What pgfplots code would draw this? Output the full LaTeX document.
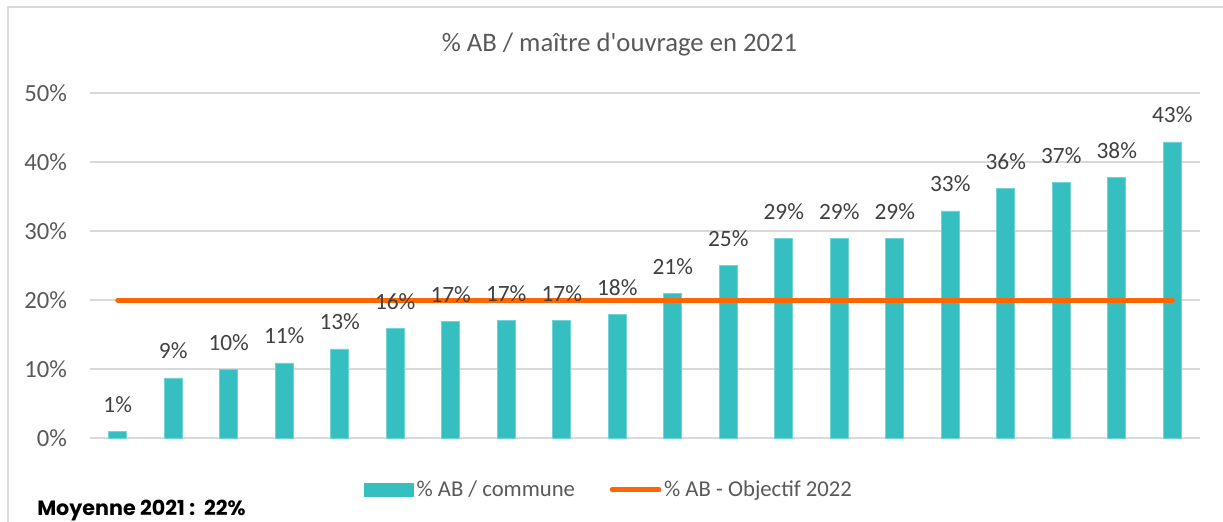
\documentclass[border=0pt]{standalone}
\usepackage{pgfplots}
\pgfplotsset{compat=1.18}
\usepackage{fontspec}
\setmainfont{Carlito}
\newfontfamily\poppins{Poppins}
\definecolor{teal1}{HTML}{36BFC1}
\definecolor{orange1}{HTML}{FF6600}
\definecolor{txt}{HTML}{595959}
\definecolor{lbl}{HTML}{404040}
\definecolor{grd}{HTML}{D9D9D9}
\begin{document}
\begin{tikzpicture}
\useasboundingbox (0,0) rectangle (917.25pt,390.75pt);
\draw[grd, line width=1pt] (6pt,-5pt) -- (6pt,385.5pt) -- (925pt,385.5pt);
\node[anchor=base, text=txt, font=\fontsize{20}{24}\selectfont, inner sep=0pt] at (464.6pt,351.75pt) {\% AB / maître d\textquotesingle ouvrage en 2021};
\node[anchor=base west, inner sep=0pt, font=\poppins\bfseries\fontsize{15.5}{18}\selectfont] at (27.75pt,4.5pt) {Moyenne 2021 :\ \ 22\%};
\begin{axis}[
  at={(67.5pt,62.25pt)}, anchor=south west,
  scale only axis, width=832.5pt, height=258.75pt,
  xmin=-0.5, xmax=19.5, ymin=0, ymax=50,
  xtick=\empty,
  ytick={0,10,20,30,40,50},
  /pgf/number format/assume math mode=true,
  yticklabel={\pgfmathprintnumber{\tick}\%},
  yticklabel style={text=txt, font=\fontsize{18.5}{22}\selectfont, inner xsep=0pt, xshift=-17pt},
  major tick length=0pt,
  ymajorgrids, grid style={grd, line width=1.2pt},
  axis line style={draw=none},
  clip=false,
  legend columns=2,
  legend style={at={(0.468,-0.15)}, anchor=center, draw=none, fill=none,
    font=\fontsize{17}{20}\selectfont, text=txt,
    /tikz/every even column/.append style={column sep=24pt},
    nodes={inner xsep=2pt}},
]
\addplot[ybar, bar width=13.5pt, fill=teal1, draw=teal1!70!white, line width=0.4pt,
  point meta=explicit symbolic,
  nodes near coords,
  every node near coord/.append style={anchor=base, yshift=14.25pt, text=lbl, font=\fontsize{17.5}{20}\selectfont, inner sep=0pt},
  legend image code/.code={\fill[teal1] (0pt,-4.9pt) rectangle (36.75pt,4.9pt);}
] table[meta=label] {
x y label
0 1.0 1\%
1 8.7 9\%
2 10.0 10\%
3 10.9 11\%
4 12.9 13\%
5 15.9 16\%
6 16.9 17\%
7 17.0 17\%
8 17.0 17\%
9 17.9 18\%
10 21.0 21\%
11 25.0 25\%
12 28.9 29\%
13 28.9 29\%
14 28.9 29\%
15 32.9 33\%
16 36.2 36\%
17 37.0 37\%
18 37.8 38\%
19 42.9 43\%
};
\addlegendentry{\% AB / commune}
\addplot[orange1, line width=3.75pt, line cap=round, mark=none,
  legend image code/.code={\draw[orange1, line width=3.75pt, line cap=round] (1.9pt,0pt) -- (37pt,0pt);}
] coordinates {(0,20) (19,20)};
\addlegendentry{\% AB - Objectif 2022}
\end{axis}
\end{tikzpicture}
\end{document}
